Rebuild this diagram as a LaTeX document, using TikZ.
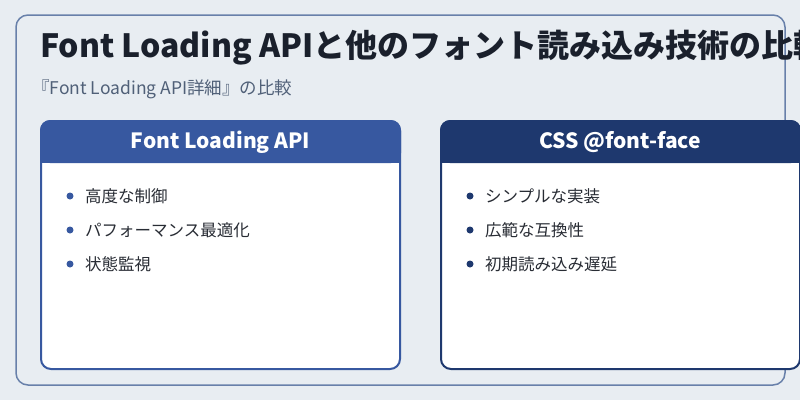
\documentclass[tikz,border=0pt]{standalone}
\usepackage{fontspec}
\setmainfont{Noto Sans CJK JP}
\usetikzlibrary{positioning}
\definecolor{bgpage}{RGB}{232,237,242}
\definecolor{frameblue}{RGB}{104,128,170}
\definecolor{apiblue}{RGB}{55,88,160}
\definecolor{cssnavy}{RGB}{30,56,110}
\definecolor{titleink}{RGB}{26,32,44}
\definecolor{subink}{RGB}{80,96,120}
\definecolor{itemink}{RGB}{40,44,52}

\begin{document}
\begin{tikzpicture}[x=1pt,y=-1pt]
    \tikzset{card/.style={draw=#1,line width=2pt,fill=white,rounded corners=10pt},
             cardhead/.style={fill=#1,rounded corners=10pt},
             headtext/.style={text=white,font=\fontsize{21}{24}\selectfont\bfseries},
             item/.style={anchor=west,text=itemink,font=\fontsize{16.5}{19}\selectfont},
             dot/.style={circle,fill=#1,inner sep=0pt,minimum size=7pt}}

    \clip (0,0) rectangle (800,400);
    \fill[bgpage] (0,0) rectangle (800,400);
    \draw[frameblue,line width=1.5pt,rounded corners=12pt] (16,15) rectangle (785,385);

    \node[anchor=west,inner sep=0pt,text=titleink,font=\fontsize{32}{36}\selectfont\bfseries] (title) at (40,48) {Font Loading APIと他のフォント読み込み技術の比較};
    \node[anchor=west,inner sep=0pt,text=subink,font=\fontsize{17.5}{20}\selectfont] (sub) at (32,89) {『Font Loading API詳細』の比較};

    % left card
    \draw[card=apiblue] (41,121) rectangle (400,369);
    \fill[cardhead=apiblue] (40,120) rectangle (401,163);
    \fill[apiblue] (40,150) rectangle (401,163);
    \node[headtext] (apihead) at (220.5,142) {Font Loading API};
    \foreach \t [count=\i] in {高度な制御,パフォーマンス最適化,状態監視} {
        \node[dot=apiblue] (ad\i) at (70,162+34*\i) {};
        \node[item,inner sep=0pt] (ai\i) at (85,162+34*\i) {\t};
    }

    % right card
    \draw[card=cssnavy] (441,121) rectangle (800,369);
    \fill[cardhead=cssnavy] (440,120) rectangle (801,163);
    \fill[cssnavy] (440,150) rectangle (801,163);
    \node[headtext] (csshead) at (620,142) {CSS @font-face};
    \foreach \t [count=\i] in {シンプルな実装,広範な互換性,初期読み込み遅延} {
        \node[dot=cssnavy] (cd\i) at (470,162+34*\i) {};
        \node[item,inner sep=0pt] (ci\i) at (485,162+34*\i) {\t};
    }
\end{tikzpicture}
\end{document}
